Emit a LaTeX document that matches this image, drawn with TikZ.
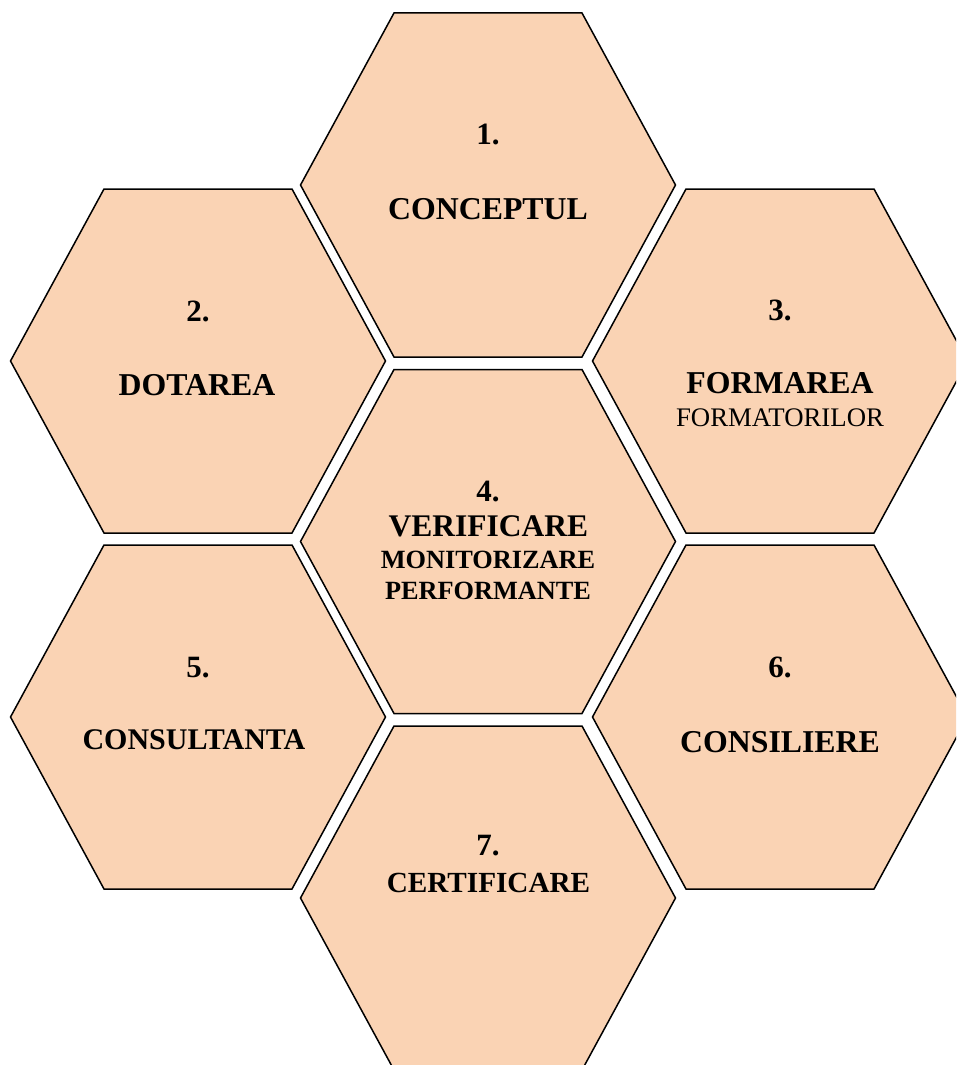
\documentclass[tikz,border=0pt]{standalone}
\usepackage{fontspec}
\setmainfont{Liberation Serif}
\definecolor{peach}{HTML}{FAD3B4}
\begin{document}
\begin{tikzpicture}[x=1pt,y=-1pt,
  hexa/.style={fill=peach,draw=black,line width=1.5pt,line join=miter},
  txt/.style={anchor=base,inner sep=0pt,text=black},
  fnum/.style={txt,font=\fontsize{31}{34}\selectfont\bfseries},
  fbig/.style={txt,font=\fontsize{31.8}{34}\selectfont\bfseries},
  fmid/.style={txt,font=\fontsize{29.2}{32}\selectfont\bfseries},
  fsmall/.style={txt,font=\fontsize{26.3}{28}\selectfont\bfseries},
  freg/.style={txt,font=\fontsize{26.8}{28}\selectfont}]
\useasboundingbox (0,0) rectangle (956,1065);
\clip (0,0) rectangle (956,1065);
\foreach \n/\cx/\cy in {1/488/185,2/198/361,3/780/361,4/488/541.5,5/198/717,6/780/717,7/488/898}{
  \coordinate (c\n) at (\cx,\cy);
  \draw[hexa] (\cx-94,\cy-172) -- (\cx+94,\cy-172) -- (\cx+187.5,\cy)
     -- (\cx+94,\cy+172) -- (\cx-94,\cy+172) -- (\cx-187.5,\cy) -- cycle;
}
% 1
\node[fnum] (n1) at (488,144) {1.};
\node[fbig] (t1) at (488,219) {CONCEPTUL};
% 2
\node[fnum] (n2) at (198,321) {2.};
\node[fbig] (t2) at (197,395) {DOTAREA};
% 3
\node[fnum] (n3) at (780,320) {3.};
\node[fbig] (t3) at (780,393) {FORMAREA};
\node[freg] (s3) at (780,426) {FORMATORILOR};
% 4
\node[fnum] (n4) at (488,501) {4.};
\node[txt,font=\fontsize{31.5}{32}\selectfont\bfseries] (t4) at (488.5,536) {VERIFICARE};
\node[fsmall] (s4a) at (488,568) {MONITORIZARE};
\node[fsmall] (s4b) at (488,599) {PERFORMANTE};
% 5
\node[fnum] (n5) at (198,677) {5.};
\node[txt,font=\fontsize{30}{32}\selectfont\bfseries] (t5) at (194,749) {CONSULTANTA};
% 6
\node[fnum] (n6) at (780,677) {6.};
\node[fbig] (t6) at (780,752) {CONSILIERE};
% 7
\node[fnum] (n7) at (488,855) {7.};
\node[fmid] (t7) at (488.5,892) {CERTIFICARE};
\end{tikzpicture}
\end{document}
